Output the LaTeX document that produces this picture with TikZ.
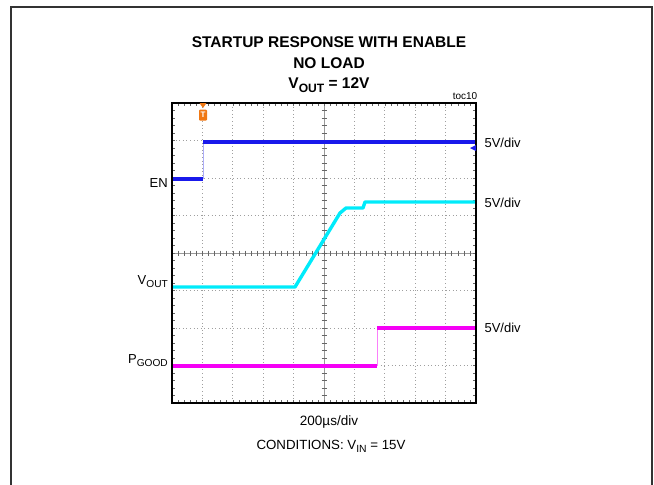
\documentclass[tikz,border=0pt]{standalone}
\usepackage{fontspec}
\setmainfont{Liberation Sans}
\usetikzlibrary{positioning}

\definecolor{enblue}{RGB}{25,25,235}
\definecolor{voutcyan}{RGB}{0,235,250}
\definecolor{pgmagenta}{RGB}{245,0,245}
\definecolor{trigorange}{RGB}{240,120,20}

\newcommand{\lowtext}[1]{\raisebox{-0.45ex}{\scalebox{0.78}{#1}}}

\tikzset{
  gridline/.style={gray!75, line width=0.7pt, dash pattern=on 0.8pt off 2.8pt},
  tick/.style={gray!80!black, line width=0.5pt},
  trace/.style={line width=3.4pt},
  titletext/.style={font=\bfseries\fontsize{15.5}{15.5}\selectfont},
  divlabel/.style={anchor=west, font=\fontsize{13}{13}\selectfont},
  chlabel/.style={anchor=east, font=\fontsize{13}{13}\selectfont, inner sep=1pt},
}

\begin{document}
\begin{tikzpicture}[x=1pt, y=-1pt]
        \useasboundingbox (0,0) rectangle (654,485);
        % outer frame, open at the bottom
        \draw[black!80, line width=1.6pt] (11,485) -- (11,7) -- (652,7) -- (652,485);

        % title
        \node[titletext] (title1) at (329,42) {STARTUP RESPONSE WITH ENABLE};
        \node[titletext] (title2) at (329,63) {NO LOAD};
        \node[titletext] (title3) at (329,85) {V\lowtext{OUT} = 12V};
        \node[font=\fontsize{10}{10}\selectfont] (toc) at (465,96) {toc10};

        % grid
        \foreach \i in {1,...,9}
          \draw[gridline] ({172+30.4*\i},103) -- ({172+30.4*\i},403);
        \foreach \j in {1,...,7}
          \draw[gridline] (172,{103+37.5*\j}) -- (476,{103+37.5*\j});
        \draw[gray!80, line width=0.6pt] (324,103) -- (324,403);
        \draw[gray!80, line width=0.6pt] (172,253) -- (476,253);
        \foreach \k in {1,...,39} {
          \draw[tick] (324-2.5,{103+7.5*\k}) -- (324+2.5,{103+7.5*\k});
          \draw[tick] (172,{103+7.5*\k}) -- (175,{103+7.5*\k});
          \draw[tick] (476,{103+7.5*\k}) -- (473,{103+7.5*\k});
        }
        \foreach \k in {1,...,49} {
          \draw[tick] ({172+6.08*\k},253-2.5) -- ({172+6.08*\k},253+2.5);
          \draw[tick] ({172+6.08*\k},103) -- ({172+6.08*\k},106);
          \draw[tick] ({172+6.08*\k},403) -- ({172+6.08*\k},400);
        }

        % traces
        \draw[enblue!35, line width=0.8pt] (203,179) -- (203,142);
        \draw[trace, enblue] (172,179) -- (203,179);
        \draw[trace, enblue] (203,142) -- (476,142);
        \draw[trace, voutcyan, line join=round] (172,287) -- (295,287) -- (340,213) -- (346,208) -- (363,208)
              -- (365,202) -- (476,202);
        \draw[pgmagenta!50, line width=0.8pt] (377,366) -- (377,328);
        \draw[trace, pgmagenta] (172,366) -- (377,366);
        \draw[trace, pgmagenta] (377,328) -- (476,328);

        % plot frame
        \draw[black, line width=1.3pt] (172,103) rectangle (476,403);

        % trigger and ground markers
        \fill[trigorange] (199.5,103) -- (206.5,103) -- (203,108) -- cycle;
        \node[fill=trigorange, rounded corners=1pt, inner sep=0pt, minimum width=8pt, minimum height=11pt,
              text=white, font=\bfseries\fontsize{8}{8}\selectfont] (trig) at (203,115) {T};
        \fill[enblue] (470,148) -- (476,145) -- (476,151) -- cycle;

        % channel labels
        \node[chlabel] (en) at (169,183) {EN};
        \node[chlabel] (vout) at (169,282) {V\lowtext{OUT}};
        \node[chlabel] (pgood) at (169,361) {P\lowtext{GOOD}};

        \node[divlabel] (div1) at (481,143) {5V/div};
        \node[divlabel] (div2) at (481,203) {5V/div};
        \node[divlabel] (div3) at (481,328) {5V/div};

        % bottom text
        \node[font=\fontsize{13.5}{13.5}\selectfont] (time) at (329,422) {200µs/div};
        \node[font=\fontsize{13.3}{13.3}\selectfont] (cond) at (331,446) {CONDITIONS: V\lowtext{IN} = 15V};
\end{tikzpicture}
\end{document}
